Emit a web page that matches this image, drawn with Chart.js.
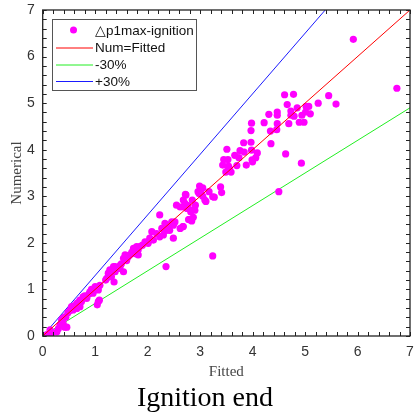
<!DOCTYPE html>
<html>
<head>
<meta charset="utf-8">
<script src="https://cdn.jsdelivr.net/npm/chart.js@4.4.0/dist/chart.umd.min.js"></script>
<style>
  html, body { margin: 0; padding: 0; background: #fff; }
  #wrap { width: 415px; height: 420px; }
</style>
</head>
<body>
<div id="wrap"><canvas id="c" width="415" height="420"></canvas></div>
<script>
// ---- data ----
const fittedX = [
  0.08,0.14,0.17,0.14,0.27,0.30,0.33,0.39,0.36,0.42,0.46,0.38,0.44,0.42,
  0.55,0.58,0.65,0.71,0.65,0.71,0.74,0.77,0.84,0.90,0.96,1.00,1.06,1.09,1.06,1.04,1.08,0.60,0.68,0.80,0.88,0.93,1.02,0.62,0.48,0.52,
  1.22,1.31,1.25,1.38,1.28,1.44,1.35,1.31,1.38,1.47,1.54,1.28,1.36,1.54,1.57,1.66,1.76,1.73,1.82,1.63,1.79,1.82,1.85,1.90,1.50,1.60,1.70,1.20,1.48,
  1.95,2.01,2.04,2.11,2.08,2.17,2.23,2.30,2.27,2.36,2.42,2.33,2.46,2.39,2.49,2.52,2.62,2.68,2.49,2.35,2.23,2.67,
  2.55,2.62,2.71,2.75,2.82,2.90,2.79,2.84,2.78,2.87,2.68,2.68,2.77,2.85,2.91,2.83,2.72,2.73,2.98,3.17,3.24,3.27,3.05,3.09,3.11,2.99,3.05,2.96,3.02,3.39,3.41,3.24,
  3.43,3.54,3.56,3.70,3.88,3.49,3.59,3.53,3.45,3.53,3.66,3.74,3.99,4.06,4.00,3.51,3.76,3.84,3.98,4.09,3.83,3.97,4.35,3.98,3.97,4.22,4.47,4.69,4.34,4.46,4.63,4.93,4.50,
  4.47,4.47,4.31,4.73,4.73,4.79,4.94,5.01,5.10,4.89,4.98,4.85,5.02,5.07,4.66,5.25,5.59,5.45,4.61,4.78,5.92,6.75
];
const numericalY = [
  0.03,0.06,0.06,0.13,0.09,0.16,0.24,0.27,0.34,0.41,0.19,0.38,0.40,0.19,
  0.63,0.56,0.59,0.63,0.70,0.77,0.74,0.84,0.81,0.95,0.92,1.06,0.99,1.09,0.74,0.67,0.77,0.65,0.72,0.86,0.90,1.00,1.02,0.60,0.50,0.55,
  1.24,1.27,1.35,1.38,1.42,1.45,1.49,1.38,1.49,1.45,1.38,1.31,1.16,1.67,1.74,1.74,1.77,1.88,1.85,1.70,1.92,1.74,1.92,1.95,1.55,1.62,1.80,1.20,1.52,
  2.02,1.99,2.10,2.06,2.24,2.20,2.13,2.17,2.31,2.27,2.27,2.42,2.45,2.38,2.38,2.45,2.31,2.35,2.10,1.49,2.60,2.35,
  2.81,2.77,2.85,2.74,2.67,2.70,2.50,2.47,2.50,2.55,2.92,2.77,2.80,2.92,2.81,2.70,3.04,3.03,3.06,3.10,2.99,2.98,3.00,2.92,2.89,3.22,3.18,3.10,3.06,3.20,3.08,1.72,
  3.67,3.65,3.60,3.66,3.67,3.52,3.52,3.56,3.79,3.79,3.88,3.83,3.78,3.83,3.74,4.01,3.98,3.95,3.99,3.93,4.15,4.16,4.13,4.57,4.41,4.58,4.56,4.56,4.40,4.43,3.91,3.71,3.10,
  4.81,4.74,4.76,4.83,4.74,4.72,4.74,4.81,4.77,4.59,4.59,4.90,4.93,4.93,4.97,5.00,4.98,5.16,5.18,5.19,6.37,5.32
];
const refLineX   = [0, 7];
const numFittedY = [0, 7];
const minus30Y   = [0, 4.9];
const plus30Y    = [0, 9.1];
const tickValues = [0, 1, 2, 3, 4, 5, 6, 7];
const seriesLabels = ['\u25B3p1max-ignition', 'Num=Fitted', '-30%', '+30%'];
const seriesColors = ['#ff00ff', '#ff0000', '#22ee22', '#1a1aff'];

const scatterPts = fittedX.map((x, i) => ({ x: x, y: numericalY[i] }));
const linePts = ys => refLineX.map((x, i) => ({ x: x, y: ys[i] }));

const frameAndTicks = {
  id: 'frameAndTicks',
  afterDatasetsDraw(chart) {
    const { ctx, chartArea: a, scales: { x, y } } = chart;
    ctx.save();
    ctx.strokeStyle = '#222';
    ctx.lineWidth = 1;
    ctx.beginPath();
    for (let k = 0; k <= 35; k++) {
      const v = k * 0.2;
      const px = Math.round(x.getPixelForValue(v)) + 0.5;
      ctx.moveTo(px, a.bottom); ctx.lineTo(px, a.bottom - 4);
      ctx.moveTo(px, a.top); ctx.lineTo(px, a.top + 4);
      const py = Math.round(y.getPixelForValue(v)) + 0.5;
      ctx.moveTo(a.left, py); ctx.lineTo(a.left + 4, py);
      ctx.moveTo(a.right, py); ctx.lineTo(a.right - 4, py);
    }
    ctx.stroke();
    ctx.lineWidth = 1.3;
    ctx.strokeRect(a.left, a.top, a.right - a.left, a.bottom - a.top);
    ctx.restore();
  }
};

const boxLegend = {
  id: 'boxLegend',
  afterDraw(chart) {
    const ctx = chart.ctx;
    ctx.save();
    const bx = 52.5, by = 19.5, bw = 144, bh = 71;
    ctx.fillStyle = '#fff';
    ctx.fillRect(bx, by, bw, bh);
    ctx.strokeStyle = '#555';
    ctx.lineWidth = 1;
    ctx.strokeRect(bx, by, bw, bh);
    ctx.font = '13.5px "Liberation Sans", Arial, sans-serif';
    ctx.textBaseline = 'middle';
    ctx.textAlign = 'left';
    const rows = [30, 47.5, 64.5, 81];
    rows.forEach((ry, i) => {
      if (i === 0) {
        ctx.fillStyle = seriesColors[0];
        ctx.beginPath(); ctx.arc(73.5, ry, 3.5, 0, Math.PI * 2); ctx.fill();
      } else {
        ctx.strokeStyle = seriesColors[i];
        ctx.lineWidth = 1;
        ctx.beginPath(); ctx.moveTo(56, ry + 0.5); ctx.lineTo(93, ry + 0.5); ctx.stroke();
      }
      ctx.fillStyle = '#111';
      ctx.fillText(seriesLabels[i], 95, ry + 1);
    });
    ctx.restore();
  }
};

const tickFont = { family: '"Liberation Sans", Arial, sans-serif', size: 14 };
const serif = '"Liberation Serif", "Times New Roman", serif';

new Chart(document.getElementById('c'), {
  type: 'scatter',
  data: {
    datasets: [
      { label: seriesLabels[1], data: linePts(numFittedY), showLine: true, borderColor: seriesColors[1], borderWidth: 1, pointRadius: 0, order: 0 },
      { label: seriesLabels[2], data: linePts(minus30Y), showLine: true, borderColor: seriesColors[2], borderWidth: 1, pointRadius: 0, order: 2 },
      { label: seriesLabels[3], data: linePts(plus30Y), showLine: true, borderColor: seriesColors[3], borderWidth: 1, pointRadius: 0, order: 2 },
      { label: seriesLabels[0], data: scatterPts, backgroundColor: seriesColors[0], borderWidth: 0, pointRadius: 3.6, order: 1 }
    ]
  },
  options: {
    responsive: false,
    animation: false,
    events: [],
    layout: { padding: { top: 10, right: 5, left: 0, bottom: 0 } },
    plugins: {
      legend: { display: false },
      tooltip: { enabled: false },
      title: {
        display: true, position: 'bottom', text: 'Ignition end', color: '#000',
        font: { family: serif, size: 28, weight: 'normal' },
        padding: { top: 0, bottom: 4.4 }
      }
    },
    scales: {
      x: {
        type: 'linear', min: 0, max: 7,
        afterBuildTicks: s => { s.ticks = tickValues.map(v => ({ value: v })); },
        ticks: { font: tickFont, color: '#333', padding: 8 },
        grid: { display: false, drawTicks: false },
        border: { display: false },
        title: { display: true, text: 'Fitted', color: '#444', font: { family: serif, size: 15 }, padding: { top: 0, bottom: 1 } },
        afterFit: s => { s.height = 46; s.paddingLeft = 0; s.paddingRight = 0; }
      },
      y: {
        type: 'linear', min: 0, max: 7,
        afterBuildTicks: s => { s.ticks = tickValues.map(v => ({ value: v })); },
        ticks: { font: tickFont, color: '#333', padding: 8 },
        grid: { display: false, drawTicks: false },
        border: { display: false },
        title: { display: true, text: 'Numerical', color: '#444', font: { family: serif, size: 15 }, padding: { top: 8, bottom: 0 } },
        afterFit: s => { s.width = 42.7; s.paddingTop = 0; s.paddingBottom = 0; }
      }
    }
  },
  plugins: [frameAndTicks, boxLegend]
});
</script>
</body>
</html>
